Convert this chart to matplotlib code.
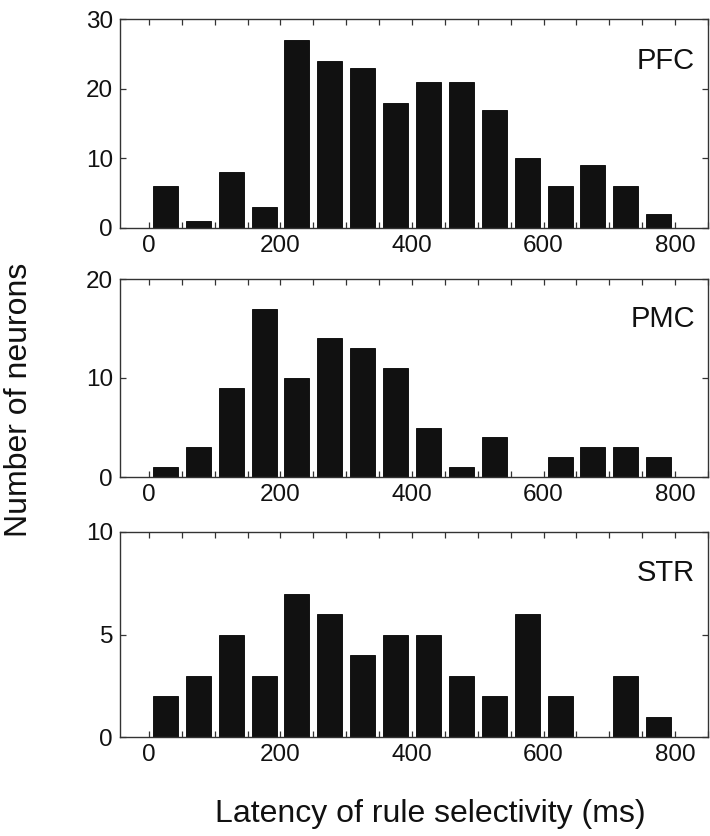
import matplotlib
matplotlib.use("Agg")
import matplotlib.pyplot as plt
from matplotlib.ticker import MultipleLocator
import numpy as np

plt.rcParams['font.family'] = ['Liberation Sans', 'DejaVu Sans']

bin_centers = [25, 75, 125, 175, 225, 275, 325, 375, 425, 475, 525, 575, 625, 675, 725, 775]
regions = ["PFC", "PMC", "STR"]
pfc_counts = [6, 1, 8, 3, 27, 24, 23, 18, 21, 21, 17, 10, 6, 9, 6, 2]
pmc_counts = [1, 3, 9, 17, 10, 14, 13, 11, 5, 1, 4, 0, 2, 3, 3, 2]
str_counts = [2, 3, 5, 3, 7, 6, 4, 5, 5, 3, 2, 6, 2, 0, 3, 1]
y_max = [30, 20, 10]
y_step = [10, 10, 5]
x_ticks = [0, 200, 400, 600, 800]
xlabel = "Latency of rule selectivity (ms)"
ylabel = "Number of neurons"

W, H = 710, 836
fig = plt.figure(figsize=(W / 100, H / 100), dpi=100)

# pixel boxes (left, top, right, bottom)
boxes = [(120, 19, 708, 228), (120, 279, 708, 477), (120, 532, 708, 737)]
counts_all = [pfc_counts, pmc_counts, str_counts]

for (l, t, r, b), counts, name, ym, ys in zip(boxes, counts_all, regions, y_max, y_step):
    ax = fig.add_axes([l / W, 1 - b / H, (r - l) / W, (b - t) / H])
    ax.bar(bin_centers, counts, width=38, color='#111111', edgecolor='#000000', linewidth=0.6)
    ax.set_xlim(-44, 850)
    ax.set_ylim(0, ym)
    ax.set_xticks(x_ticks)
    ax.xaxis.set_minor_locator(MultipleLocator(50))
    ax.set_yticks(np.arange(0, ym + 0.1, ys))
    ax.tick_params(axis='both', which='both', direction='in', top=True, right=True,
                   length=4, width=0.9, color='#333333', labelsize=17.5, pad=5,
                   labelcolor='#111111')
    for sp in ax.spines.values():
        sp.set_color('#333333')
        sp.set_linewidth(1.0)
    ax.text(0.978, 0.76, name, transform=ax.transAxes, ha='right', va='baseline',
            fontsize=21, color='#111111')

fig.text(430 / W, 1 - 814 / H, xlabel, ha='center', va='center', fontsize=23, color='#111111')
fig.text(19 / W, 1 - 400 / H, ylabel, ha='center', va='center', rotation=90,
         fontsize=23, color='#111111')

fig.savefig("out.png", dpi=100, facecolor='white')
